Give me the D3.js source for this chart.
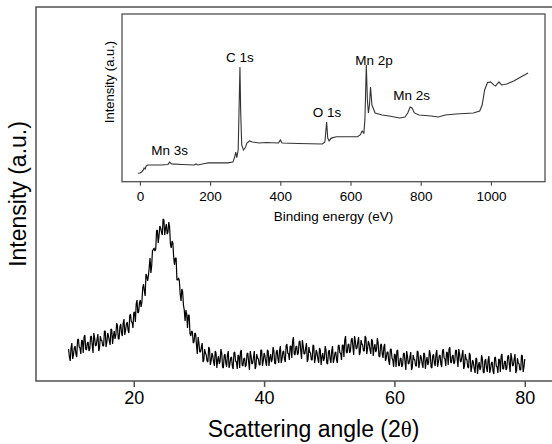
<!DOCTYPE html>
<html>
<head>
<meta charset="utf-8">
<script src="https://cdn.jsdelivr.net/npm/d3@7"></script>
<style>
  body { margin: 0; background: #fff; }
  text { font-family: "Liberation Sans", Arial, sans-serif; fill: #000; }
</style>
</head>
<body>
<div id="fig"></div>
<script>
// XRD pattern: intensity (a.u.) every 0.25 deg from 10 to 80 (2theta)
var xrdStart = 10, xrdStep = 0.25
var xrdIntensity = [
  32,20,38,26, 35,24,42,33, 41,28,46,31, 39,32,45,28, 43,36,47,33,
  41,35,50,34, 48,40,52,37, 50,46,55,42, 57,45,62,51, 59,48,67,59,
  68,59,81,69, 81,79,97,85, 105,105,123,115, 131,130,150,138, 155,149,162,146,
  157,149,154,133, 138,116,123,101, 100,80,89,71, 71,53,66,45, 49,39,47,27,
  38,29,38,21, 28,20,34,16, 28,19,30,13, 25,20,28,13, 27,14,30,17,
  24,12,29,19, 26,13,31,15, 23,16,28,11, 25,18,30,15, 23,16,31,15,
  28,19,31,15, 27,22,30,17, 31,18,35,22, 30,19,37,27, 35,23,44,26,
  35,28,40,22, 35,27,38,22, 29,21,36,18, 31,22,33,16, 28,23,31,17,
  31,18,35,22, 29,18,36,28, 36,24,45,28, 37,30,43,26, 40,33,44,29,
  37,30,45,27, 40,31,42,25, 37,31,38,24, 37,23,37,23, 29,16,32,21,
  27,14,31,15, 23,16,28,11, 25,18,29,14, 22,15,30,13, 26,17,28,12,
  24,19,27,13, 27,15,31,19, 26,14,32,22, 29,16,34,18, 26,19,31,14,
  27,20,31,15, 22,14,28,9, 21,12,23,7, 19,14,22,8, 22,9,25,12,
  19,7,24,14, 22,9,27,12, 20,13,26,9, 23,16,27,11, 18,11,26,9,
  22
]
// readings in between, at 10.125, 10.375, ... 79.875
var xrdIntensityHalf = [
  24,33,22,33, 27,41,34,27, 40,44,32,38, 30,44,36,48, 35,42,30,45,
  40,35,50,39, 45,36,51,45, 42,58,42,54, 48,58,46,57, 51,65,59,53,
  69,77,68,78, 74,93,90,107, 100,114,108,131, 133,132,151,145, 153,146,161,153,
  147,159,137,140, 124,123,101,103, 87,92,76,60, 67,66,48,50, 38,48,36,44,
  29,34,19,32, 26,19,32,20, 25,15,28,21, 17,32,14,25, 18,26,13,23,
  15,28,20,12, 25,29,16,22, 14,27,19,30, 17,24,12,27, 22,16,31,20,
  25,15,30,23, 19,34,18,29, 22,31,18,29, 22,35,28,21, 35,40,27,34,
  26,39,30,41, 27,33,19,34, 28,21,35,23, 28,18,31,24, 20,35,18,29,
  22,30,18,28, 21,35,28,21, 36,41,29,36, 28,41,34,45, 32,39,26,41,
  36,30,43,32, 37,27,40,33, 29,43,25,36, 27,34,20,29, 20,32,23,14,
  26,30,16,22, 14,27,19,30, 17,24,11,26, 21,15,29,18, 23,13,27,20,
  16,31,14,25, 18,27,14,25, 17,30,23,15, 28,32,19,25, 17,30,22,32,
  19,26,12,27, 21,13,26,14, 18,8,22,15, 11,26,9,20, 13,21,8,18,
  10,23,15,8, 21,25,12,19, 11,24,17,28, 15,22,8,23, 17,11,25,14
]
var xrdPoints = xrdIntensity.map(function(v, i) { return [xrdStart + i * xrdStep, v] })
  .concat(xrdIntensityHalf.map(function(v, i) { return [xrdStart + xrdStep / 2 + i * xrdStep, v] }))
  .sort(function(a, b) { return a[0] - b[0] })

// XPS survey (inset): binding energy (eV) and intensity (a.u.)
var xpsEnergy = [-6,0,5,10,12,15,18,22,30,60,80,85,90,120,155,160,165,185,195,250,265,
  270,273,276,280,283,285,287,290,295,300,305,312,320,340,360,395,400,405,450,520,
  527,532,535,539,545,560,600,620,628,633,638,641,645,648,651,654,657,661,670,690,
  710,740,755,763,770,775,782,795,830,850,870,900,950,968,975,982,990,999,1008,1013,
  1018,1023,1030,1045,1065,1085,1106]
var xpsIntensity = [5.0,5.2,5.8,7.0,8.2,7.6,9.4,10,10,10,10.3,11.7,10.6,10.3,10,10.6,10,10.9,11.2,11.2,11.7,
  14.7,17.7,14.3,18.9,48.7,68.4,42.7,21.9,18.9,20.2,23.1,24.3,23.7,23.1,23.4,23.1,24.9,23.1,22.8,22.5,
  23.7,35.6,26,24.3,26,26.8,26.8,26.8,28,30.2,29,37,69.6,48.7,41,45.7,56.5,45.7,41,39.8,
  39.2,38,38.6,41,44.5,44,41,39.8,39.2,38.6,39.8,40.4,41,42.2,45.7,54.7,59,59.5,57.7,57,
  58.3,59.5,57.7,58.3,60,62.4,64.8]

// peak labels in the inset
var peakNames = ["Mn 3s", "C 1s", "O 1s", "Mn 2p", "Mn 2s"]
var peakEnergy = [85, 285, 533, 667, 774]
var peakLabelY = [15.9, 71.4, 38.6, 69.6, 48.7]

// tick values
var mainTicks = [20, 40, 60, 80]
var insetTicks = [0, 200, 400, 600, 800, 1000]

var W = 552, H = 444

var svg = d3.select("#fig").append("svg")
    .attr("width", W)
    .attr("height", H)

// main plot area (right edge falls outside the picture)
var margin = {top: 7, left: 36, bottom: 381}
var x = d3.scaleLinear().domain([5, 85]).range([margin.left, margin.left + 80 * 6.517])
var y = d3.scaleLinear().domain([0, 374]).range([margin.bottom, margin.top])

// frame
svg.append("rect")
    .attr("x", x(5))
    .attr("y", y(374))
    .attr("width", x(85) - x(5))
    .attr("height", y(0) - y(374))
    .attr("fill", "none")
    .attr("stroke", "#505050")
    .attr("stroke-width", 1.5)

// x axis
var xAxis = svg.append("g")
    .attr("transform", "translate(0," + y(0) + ")")
    .call(d3.axisBottom(x).tickValues(mainTicks).tickSize(6).tickPadding(4))
xAxis.select(".domain").remove()
xAxis.selectAll("line").attr("stroke", "#505050").attr("stroke-width", 1.5)
xAxis.selectAll("text")
    .style("font-size", "18px")
    .style("font-family", "Liberation Sans, Arial, sans-serif")
    .attr("fill", "#000")

svg.append("text")
    .attr("x", x(47.6))
    .attr("y", 437)
    .style("font-size", "23px")
    .style("text-anchor", "middle")
    .html('Scattering angle (2<tspan style="font-family:\'Liberation Serif\', serif">θ</tspan>)')

svg.append("text")
    .attr("transform", "rotate(-90)")
    .attr("x", -(y(0) + y(374)) / 2)
    .attr("y", 26)
    .style("font-size", "23px")
    .style("text-anchor", "middle")
    .text("Intensity (a.u.)")

// XRD line
var xrdLine = d3.line()
    .x(function(d) { return x(d[0]) })
    .y(function(d) { return y(d[1]) })

svg.append("path")
    .datum(xrdPoints)
    .attr("d", xrdLine)
    .attr("fill", "none")
    .attr("stroke", "#000")
    .attr("stroke-width", 1.2)
    .attr("stroke-linejoin", "bevel")

// ---- inset ----
var ix = d3.scaleLinear().domain([-51, 1154]).range([122, 545])
var iy = d3.scaleLinear().domain([0, 100]).range([181.7, 14])

svg.append("rect")
    .attr("x", ix(-51))
    .attr("y", iy(100))
    .attr("width", ix(1154) - ix(-51))
    .attr("height", iy(0) - iy(100))
    .attr("fill", "#fff")
    .attr("stroke", "#505050")
    .attr("stroke-width", 1.3)

var ixAxis = svg.append("g")
    .attr("transform", "translate(0," + iy(0) + ")")
    .call(d3.axisBottom(ix).tickValues(insetTicks).tickFormat(d3.format("d")).tickSize(4).tickPadding(6))
ixAxis.select(".domain").remove()
ixAxis.selectAll("line").attr("stroke", "#505050").attr("stroke-width", 1.2)
ixAxis.selectAll("text")
    .style("font-size", "13.5px")
    .style("font-family", "Liberation Sans, Arial, sans-serif")
    .attr("fill", "#000")

svg.append("text")
    .attr("x", (ix(-51) + ix(1154)) / 2)
    .attr("y", 221)
    .style("font-size", "13.5px")
    .style("text-anchor", "middle")
    .text("Binding energy (eV)")

svg.append("text")
    .attr("transform", "rotate(-90)")
    .attr("x", -82)
    .attr("y", 114)
    .style("font-size", "13px")
    .style("text-anchor", "middle")
    .text("Intensity (a.u.)")

var xpsLine = d3.line()
    .x(function(d, i) { return ix(xpsEnergy[i]) })
    .y(function(d) { return iy(d) })

svg.append("path")
    .datum(xpsIntensity)
    .attr("d", xpsLine)
    .attr("fill", "none")
    .attr("stroke", "#333")
    .attr("stroke-width", 1.1)

svg.selectAll(".peak")
    .data(peakNames)
    .enter().append("text")
    .attr("class", "peak")
    .attr("x", function(d, i) { return ix(peakEnergy[i]) })
    .attr("y", function(d, i) { return iy(peakLabelY[i]) })
    .style("font-size", "13.5px")
    .style("text-anchor", "middle")
    .text(function(d) { return d })
</script>
</body>
</html>
